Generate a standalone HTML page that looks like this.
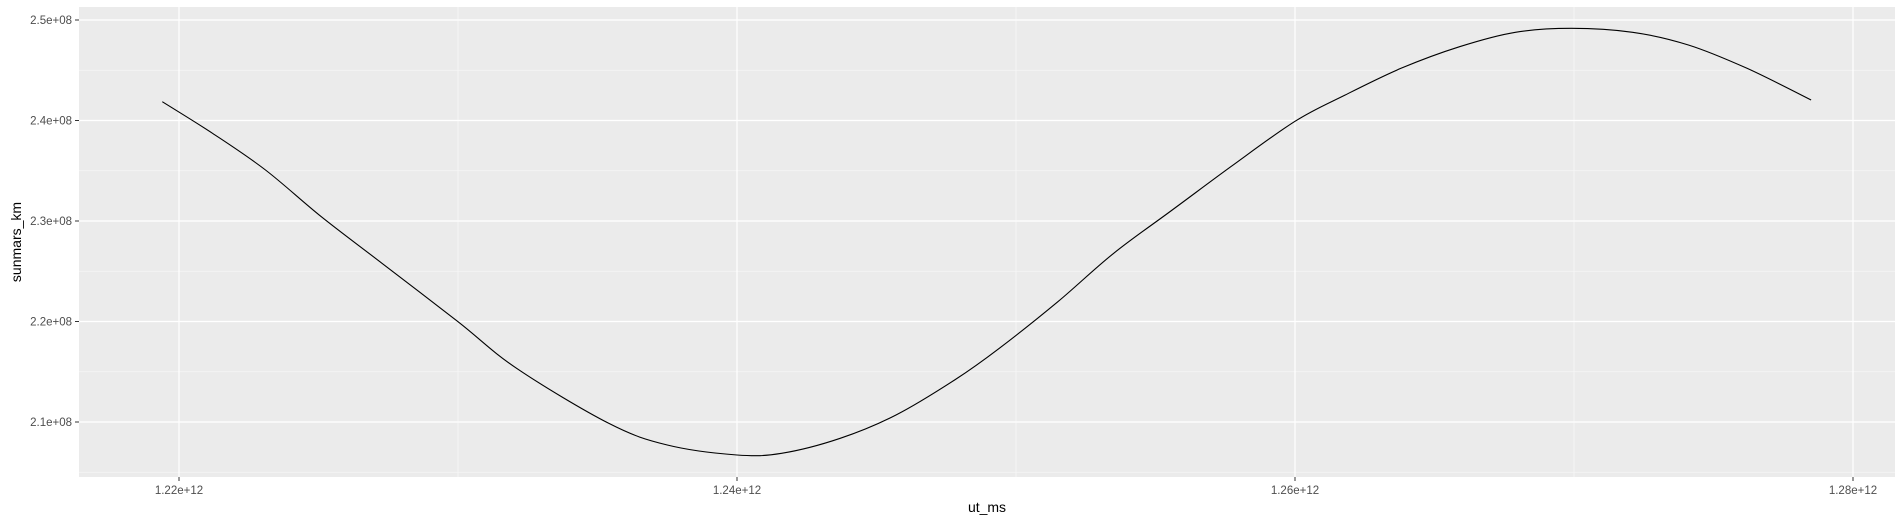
<!DOCTYPE html>
<html><head><meta charset="utf-8"><style>
body{margin:0;background:#fff;}
svg{display:block;font-family:"Liberation Sans",Arial,sans-serif;}
</style></head><body>
<svg id="chart" width="1903" height="522" viewBox="0 0 1903 522" xmlns="http://www.w3.org/2000/svg">
<rect x="79" y="7" width="1816" height="470" fill="#ebebeb"/>
<g id="grid"></g>
<path id="series" fill="none" stroke="#000" stroke-width="1.1"/>
<g id="axes"></g>
<text x="987" y="512" font-size="14" text-anchor="middle" fill="#000">ut_ms</text>
<text transform="translate(21,242) rotate(-90)" font-size="14" text-anchor="middle" fill="#000">sunmars_km</text>
</svg>
<script>
const xValues=[1.2194,1.2212,1.2231,1.2251,1.2272,1.2300,1.2321,1.2354,1.2375,1.2400,1.2416,1.2437,1.2457,1.2478,1.2494,1.2515,1.2535,1.2556,1.2577,1.2600,1.2618,1.2638,1.2659,1.2679,1.2699,1.2721,1.2741,1.2762,1.2785];
const yValues=[2.4187,2.3873,2.3507,2.3043,2.2595,2.1998,2.1534,2.0987,2.0771,2.0672,2.0689,2.0838,2.1070,2.1418,2.1733,2.2197,2.2679,2.3109,2.3540,2.3992,2.4254,2.4519,2.4734,2.4878,2.4917,2.4878,2.4751,2.4519,2.4204];
const xTicks=[1.22,1.24,1.26,1.28];
const xTickLabels=["1.22e+12","1.24e+12","1.26e+12","1.28e+12"];
const yTicks=[2.1,2.2,2.3,2.4,2.5];
const yTickLabels=["2.1e+08","2.2e+08","2.3e+08","2.4e+08","2.5e+08"];
const NS="http://www.w3.org/2000/svg";
function sx(v){return 179+(v-1.22)/0.02*558;}
function sy(v){return 20+(2.5-v)/0.1*100.5;}
const grid=document.getElementById('grid'),axes=document.getElementById('axes');
function line(p,x1,y1,x2,y2,st,w){const l=document.createElementNS(NS,'line');l.setAttribute('x1',x1);l.setAttribute('y1',y1);l.setAttribute('x2',x2);l.setAttribute('y2',y2);l.setAttribute('stroke',st);l.setAttribute('stroke-width',w);p.appendChild(l);return l;}
for(let i=0;i<xTicks.length-1;i++){const m=(xTicks[i]+xTicks[i+1])/2;const l=line(grid,sx(m),7,sx(m),477,'#f7f7f7',0.8);

}
for(let i=0;i<yTicks.length;i++){const m=yTicks[i]-0.05;const l=line(grid,79,sy(m),1895,sy(m),'#f7f7f7',0.8);

}
xTicks.forEach((t,i)=>{const x=sx(t);const g=line(grid,x,7,x,477,'#fff',1.2);


const tk=line(axes,x,477,x,481,'#333',1);


const tx=document.createElementNS(NS,'text');tx.setAttribute('x',x);tx.setAttribute('y',494);tx.setAttribute('font-size','11.5');tx.setAttribute('text-anchor','middle');tx.setAttribute('fill','#4d4d4d');tx.textContent=xTickLabels[i];


axes.appendChild(tx);});
yTicks.forEach((t,i)=>{const y=sy(t);const g=line(grid,79,y,1895,y,'#fff',1.2);


const tk=line(axes,75,y,79,y,'#333',1);


const tx=document.createElementNS(NS,'text');tx.setAttribute('x',72);tx.setAttribute('y',y+4);tx.setAttribute('font-size','11.5');tx.setAttribute('text-anchor','end');tx.setAttribute('fill','#4d4d4d');tx.textContent=yTickLabels[i];


axes.appendChild(tx);});
// smooth Catmull-Rom path through data points
const P=xValues.map((v,i)=>[sx(v),sy(yValues[i])]);
let d='M'+P[0][0].toFixed(1)+','+P[0][1].toFixed(1);
for(let i=0;i<P.length-1;i++){
const p0=P[Math.max(0,i-1)],p1=P[i],p2=P[i+1],p3=P[Math.min(P.length-1,i+2)];
const c1=[p1[0]+(p2[0]-p0[0])/6,p1[1]+(p2[1]-p0[1])/6];
const c2=[p2[0]-(p3[0]-p1[0])/6,p2[1]-(p3[1]-p1[1])/6];
d+='C'+c1[0].toFixed(1)+','+c1[1].toFixed(1)+' '+c2[0].toFixed(1)+','+c2[1].toFixed(1)+' '+p2[0].toFixed(1)+','+p2[1].toFixed(1);}
document.getElementById('series').setAttribute('d',d);
</script>
</body></html>
